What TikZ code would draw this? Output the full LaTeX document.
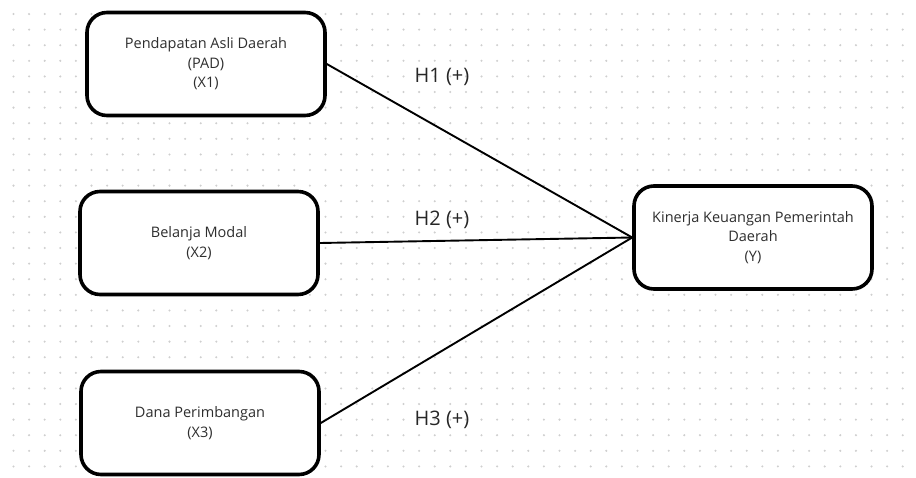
\documentclass[tikz,border=0pt]{standalone}
\usepackage{fontspec}
\setmainfont{Open Sans}
\definecolor{txtgray}{HTML}{2E2E2E}
\definecolor{dotgray}{HTML}{CFCFCF}
\begin{document}
\begin{tikzpicture}[x=1pt,y=-1pt,
  varbox/.style={draw=black, line width=3.6pt, rounded corners=20pt, fill=white,
    minimum width=238pt, minimum height=103pt, align=center, text=txtgray,
    font=\fontsize{14.5}{19.5}\selectfont, inner sep=0pt},
  hyp/.style={text=black!85, font=\fontsize{20}{24}\selectfont, inner sep=0pt},
  conn/.style={draw=black, line width=1.9pt}]
\useasboundingbox (0,0) rectangle (916,477);
\fill[white] (0,0) rectangle (916,477);
\foreach \i in {0,...,58}{
  \foreach \j in {0,...,30}{
    \fill[dotgray] (13.5+\i*15.6, 14+\j*15.6) circle (1.15pt);
  }
}
\node[varbox] (x1) at (206,64) {Pendapatan Asli Daerah\\(PAD)\\(X1)};
\node[varbox] (x2) at (199,243) {Belanja Modal\\(X2)};
\node[varbox] (x3) at (200,423) {Dana Perimbangan\\(X3)};
\node[varbox] (y) at (753,237.5) {Kinerja Keuangan Pemerintah\\Daerah\\(Y)};
\draw[conn] (x1.east) -- (y.west);
\draw[conn] (x2.east) -- (y.west);
\draw[conn] (x3.east) -- (y.west);
\node[hyp] (h1) at (442,77) {H1 (+)};
\node[hyp] (h2) at (442,220) {H2 (+)};
\node[hyp] (h3) at (442,420) {H3 (+)};
\end{tikzpicture}
\end{document}
